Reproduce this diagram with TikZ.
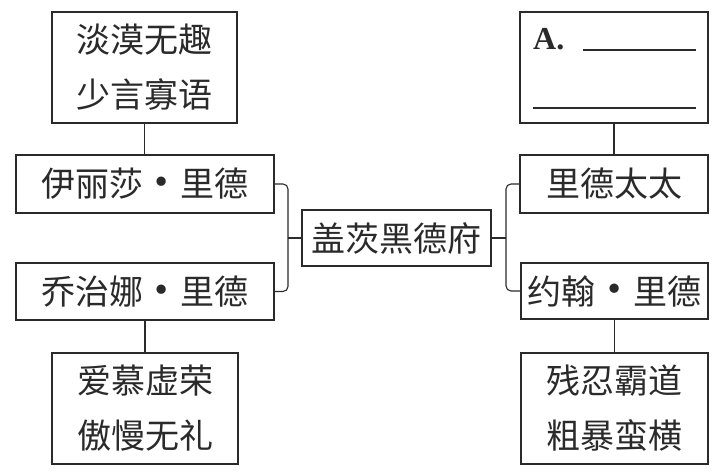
\documentclass[tikz,border=0pt]{standalone}
\usepackage{fontspec}
\setmainfont{Noto Sans CJK SC}
\newfontfamily\serifA{Liberation Serif}
\definecolor{ink}{HTML}{2A2A2A}
\tikzset{
  box/.style={draw=ink, line width=1.1pt, inner sep=0pt, text=ink,
    font=\fontsize{34}{55}\selectfont, align=center},
  link/.style={draw=ink, line width=1.1pt},
}
\newcommand{\mdot}{\makebox[1.1em]{\raisebox{-0.05em}{\scalebox{1.3}{•}}}}
\begin{document}
\begin{tikzpicture}[x=1pt,y=-1pt]
\useasboundingbox (0,0) rectangle (722,473);
% left column
\node[box, minimum width=185pt, minimum height=111pt] (tl) at (144.5,67.5) {淡漠无趣\\少言寡语};
\node[box, minimum width=258pt, minimum height=58pt] (l1) at (145,184) {伊丽莎\mdot 里德};
\node[box, minimum width=258pt, minimum height=57pt] (l2) at (145,291.5) {乔治娜\mdot 里德};
\node[box, minimum width=186pt, minimum height=111pt] (bl) at (145,408.5) {爱慕虚荣\\傲慢无礼};
% centre
\node[box, minimum width=189pt, minimum height=56pt] (c) at (396.5,238) {盖茨黑德府};
% right column
\node[box, minimum width=188pt, minimum height=111pt] (tr) at (614,67.5) {};
\node[box, minimum width=188pt, minimum height=58pt] (r1) at (614,184) {里德太太};
\node[box, minimum width=187pt, minimum height=56pt] (r2) at (614.5,291) {约翰\mdot 里德};
\node[box, minimum width=187pt, minimum height=111pt] (br) at (614.5,408.5) {残忍霸道\\粗暴蛮横};
% answer blank
\node[anchor=base west, inner sep=0pt, text=ink, font=\serifA\bfseries\fontsize{32}{32}\selectfont] (ansA) at (533,50) {A.};
\coordinate (u1a) at (583,50);
\coordinate (u1b) at (696,50);
\coordinate (u2a) at (533,108);
\coordinate (u2b) at (696,108);
\draw[link] (u1a) -- (u1b);
\draw[link] (u2a) -- (u2b);
% connectors
\coordinate (lj) at (288,238);
\coordinate (rj) at (506,238);
\draw[link] (tl.south) -- (tl.south |- l1.north);
\draw[link] (l2.south) -- (l2.south |- bl.north);
\draw[link] (tr.south) -- (tr.south |- r1.north);
\draw[link] (r2.south) -- (r2.south |- br.north);
\draw[link, rounded corners=5pt] (l1.east) -| (lj) |- (l2.east);
\draw[link] (lj) -- (c.west);
\draw[link, rounded corners=5pt] (r1.west) -| (rj) |- (r2.west);
\draw[link] (rj) -- (c.east);
\end{tikzpicture}
\end{document}
